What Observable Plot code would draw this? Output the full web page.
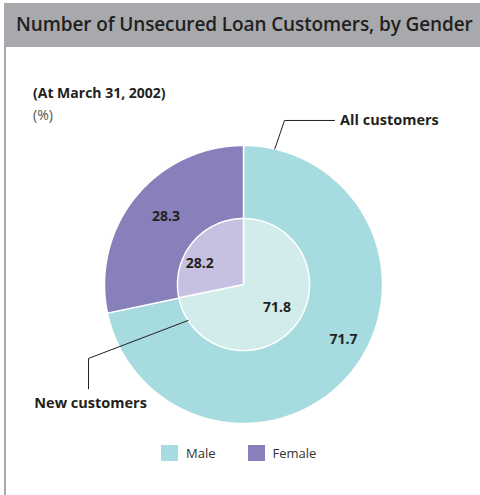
<!DOCTYPE html>
<html><head><meta charset="utf-8">
<script src="https://cdn.jsdelivr.net/npm/d3@7"></script>
<script src="https://cdn.jsdelivr.net/npm/@observablehq/plot@0.6"></script>
<style>
body{margin:0;background:#fff;font-family:"Open Sans",sans-serif;}
#wrap{position:relative;width:480px;height:495px;overflow:hidden;}
#bar{position:absolute;left:4px;top:3px;width:476px;height:44px;background:#a8a9ad;}
#title{position:absolute;left:16px;top:11px;font-size:19px;font-weight:600;color:#231f20;letter-spacing:-0.12px;white-space:nowrap;}
#lborder{position:absolute;left:4px;top:47px;width:2px;height:448px;background:#a8a9ad;}
#sub{position:absolute;left:33px;top:83px;font-size:14px;font-weight:bold;color:#231f20;}
#unit{position:absolute;left:33px;top:105px;font-size:14px;color:#555;}
#chart{position:absolute;left:0;top:47px;}
#legend{position:absolute;top:444px;left:161px;display:flex;align-items:center;font-size:13px;color:#333;}
.sw{width:17px;height:16px;display:inline-block;margin-right:8px;}
.it{display:flex;align-items:center;margin-right:32px;}
</style></head><body>
<div id="wrap">
<div id="bar"></div><div id="title">Number of Unsecured Loan Customers, by Gender</div>
<div id="lborder"></div>
<div id="sub">(At March 31, 2002)</div>
<div id="unit">(%)</div>
<div id="chart"></div>
<div id="legend"></div>
</div>
<script>
// Data
const genders = ["Male", "Female"];
const allCustomers = [71.7, 28.3];
const newCustomers = [71.8, 28.2];
const outerColors = ["#a6dcdf", "#8780bb"];
const innerColors = ["#d2ecec", "#c6c1e1"];
const ringNames = ["All customers", "New customers"];

// Layout
const W = 480, H = 448, R = 139, cx = 243, cy = 237;
const innerR = 0.475;

function slices(values, radius, colors, ring) {
  const pts = [];
  const total = d3.sum(values);
  let acc = 0;
  values.forEach((v, i) => {
    const a0 = acc / total * 2 * Math.PI, a1 = (acc + v) / total * 2 * Math.PI;
    const key = ring + "-" + i;
    pts.push({key, x: 0, y: 0, fill: colors[i]});
    const n = Math.max(2, Math.ceil((a1 - a0) / (Math.PI / 180)));
    for (let k = 0; k <= n; k++) {
      const a = a0 + (a1 - a0) * k / n;
      pts.push({key, x: radius * Math.sin(a), y: radius * Math.cos(a), fill: colors[i]});
    }
    acc += v;
  });
  return pts;
}
function midLabels(values, r, fracs) {
  const total = d3.sum(values);
  let acc = 0;
  return values.map((v, i) => {
    const a = (acc + v * fracs[i]) / total * 2 * Math.PI;
    acc += v;
    return {x: r[i] * Math.sin(a), y: r[i] * Math.cos(a), text: v.toFixed(1)};
  });
}
const outerPts = slices(allCustomers, 1, outerColors, "all");
const innerPts = slices(newCustomers, innerR, innerColors, "new");
const labels = [
  ...midLabels(allCustomers, [0.82, 0.74], [0.46, 0.52]),
  ...midLabels(newCustomers, [0.29, 0.35], [0.48, 0.37])
];
const polar = (r, deg) => [r * Math.sin(deg * Math.PI / 180), r * Math.cos(deg * Math.PI / 180)];
const [ax, ay] = polar(1, 13);
const leaderAll = [{x: ax, y: ay}, {x: 0.295, y: 1.18}, {x: 0.655, y: 1.18}];
const [bx, by] = polar(innerR, 237);
const leaderNew = [{x: bx, y: by}, {x: -1.115, y: -0.532}, {x: -1.115, y: -0.75}];
const allLabel = [{x: 0.695, y: 1.18, text: ringNames[0]}];
const newLabel = [{x: -1.10, y: -0.855, text: ringNames[1]}];

const plot = Plot.plot({
  width: W, height: H, margin: 0,
  x: {domain: [-cx / R, (W - cx) / R], range: [0, W], axis: null},
  y: {domain: [-(H - cy) / R, cy / R], range: [H, 0], axis: null},
  style: {fontFamily: "Open Sans, sans-serif", color: "#231f20"},
  marks: [
    Plot.line(outerPts, {x: "x", y: "y", z: "key", fill: "fill", stroke: "white", strokeWidth: 1.5, curve: "linear-closed"}),
    Plot.line(innerPts, {x: "x", y: "y", z: "key", fill: "fill", stroke: "white", strokeWidth: 1.5, curve: "linear-closed"}),
    Plot.line(leaderAll, {x: "x", y: "y", stroke: "#231f20", strokeWidth: 1}),
    Plot.line(leaderNew, {x: "x", y: "y", stroke: "#231f20", strokeWidth: 1}),
    Plot.text(labels, {x: "x", y: "y", text: "text", fontSize: 14, fontWeight: "bold", fill: "#231f20"}),
    Plot.text(allLabel, {x: "x", y: "y", text: "text", textAnchor: "start", fontSize: 14.5, fontWeight: "bold", fill: "#231f20"}),
    Plot.text(newLabel, {x: "x", y: "y", text: "text", textAnchor: "middle", fontSize: 14.5, fontWeight: "bold", fill: "#231f20"})
  ]
});
document.getElementById("chart").appendChild(plot);

const lg = document.getElementById("legend");
genders.forEach((g, i) => {
  const it = document.createElement("div"); it.className = "it";
  it.innerHTML = `<span class="sw" style="background:${outerColors[i]}"></span><span>${g}</span>`;
  lg.appendChild(it);
});
</script>
</body></html>
